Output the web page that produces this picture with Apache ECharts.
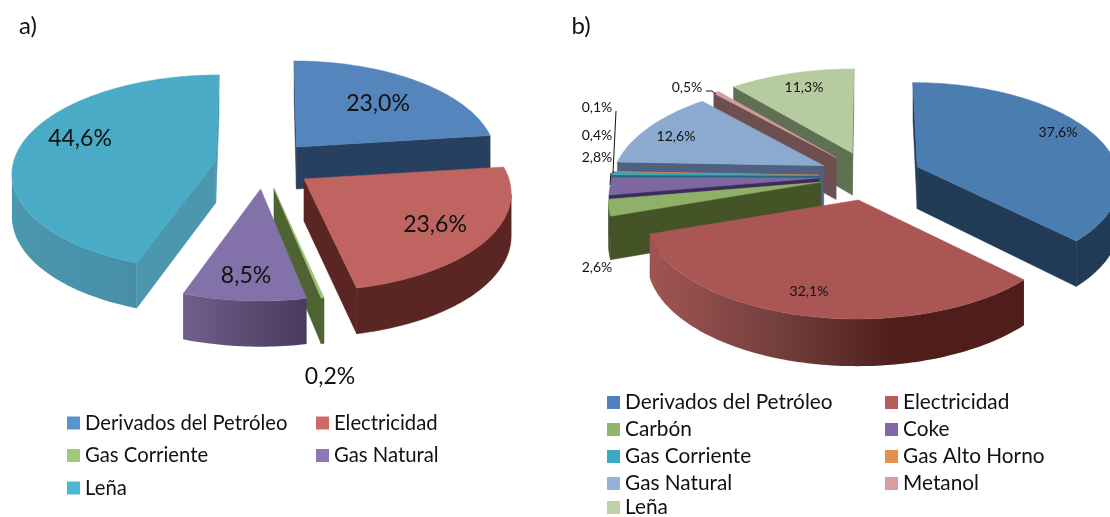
<!DOCTYPE html>
<html><head><meta charset="utf-8">
<style>html,body{margin:0;padding:0;background:#fff}#c{width:1110px;height:517px}</style>
<script src="https://cdn.jsdelivr.net/npm/echarts@6/dist/echarts.min.js"></script>
</head><body><div id="c"></div>
<script>
// ---- data ----
const categoriesA = ['Derivados del Petróleo','Electricidad','Gas Corriente','Gas Natural','Leña'];
const valuesA = [23.0,23.6,0.2,8.5,44.6];
const categoriesB = ['Derivados del Petróleo','Electricidad','Carbón','Coke','Gas Corriente','Gas Alto Horno','Gas Natural','Metanol','Leña'];
const valuesB = [37.6,32.1,2.6,2.8,0.4,0.1,12.6,0.5,11.3];
// ---- styles ----
const topA = ['#5486bd','#bf6461','#9bc26f','#8371aa','#4aabc6'];
const wallA = [['#27405f'],['#5b2523'],['#4d6332'],['#6f5f8a','#4a3b60'],['#4a97ae','#478fa6']];
const swatchA = ['#5b92d0','#cd6a65','#a2c776','#8d77b5','#4bb8d3'];
const topB = ['#4c7db0','#a95655','#8eb068','#7f67a2','#3da5bd','#e28f4a','#8ca9d0','#d49c9c','#b6cca0'];
const wallB = [['#213a56'],['#a05553','#74403e','#4f1e1a','#4f1e1a'],['#445426'],['#3c2c5c'],['#1f6a7d'],['#a0622c'],['#4f6080'],['#6f4e50'],['#5f7055']];
const swatchB = ['#4f81bd','#b55d5b','#93b56b','#8169a6','#3fa8c2','#e2914f','#98b1d6','#d69fa0','#bad2a5'];
// geometry of the two exploded perspective pies
const geoA = {cx:264,cy:165,ex:49,ey:24,R:205,Ry:97.3,k:0.131,D:42,taper:[0.07,0,0,0,0.03]};
const geoB = {cx:870,cy:176,ex:51,ey:24.6,R:208,Ry:98.5,k:0.172,D:42,taper:[0.08,0,0,0.015,0,0,0,0,0]};
const labelPosA = [[378,104],[435,225],[330,377],[246,276],[80,139]];
const labelPosB = [[1058,132],[809,291],[597,267],[597,157],[597,135],[597,107],[676,136],[687,87],[804,87]];
const fontFam = 'Lato, Carlito, "Open Sans", sans-serif';

function makeSlices(values, geo){
  const total = values.reduce((a,b)=>a+b,0);
  let acc = 0;
  return values.map((v,i)=>{
    const t1 = acc/total*2*Math.PI; acc += v;
    const t2 = acc/total*2*Math.PI;
    const mid = (t1+t2)/2;
    const exX = geo.ex*Math.sin(mid);
    return {t1,t2,exX,taper:geo.taper[i],ax:geo.cx+exX,ay:geo.cy-geo.ey*Math.cos(mid)};
  });
}
function rim(geo,sl,t){
  const c = Math.cos(t);
  const s = 1/(1+geo.k*c);
  const f = 1-sl.taper*(1-c)/2;
  return {x:sl.ax+geo.R*Math.sin(t)*s*f+0.6*sl.exX*(s-1), y:sl.ay-geo.Ry*c*s*f, h:geo.D*(1+(s-1)*0.6)};
}
function fillOf(stops){
  if(stops.length===1) return stops[0];
  return new echarts.graphic.LinearGradient(0,0,1,0,stops.map((c,i)=>({offset:i/(stops.length-1),color:c})));
}
function drawSlice(geo,sl,topColor,wallStops){
  const kids = [];
  const n = Math.max(2,Math.ceil((sl.t2-sl.t1)/0.02));
  const pts = [];
  for(let i=0;i<=n;i++) pts.push(rim(geo,sl,sl.t1+(sl.t2-sl.t1)*i/n));
  const midP = pts[Math.floor(n/2)];
  const solid = wallStops[wallStops.length-1];
  // straight walls, only when facing the viewer
  [pts[0],pts[n]].forEach(p=>{
    const dx=p.x-sl.ax, dy=p.y-sl.ay;
    let nx=-dy, ny=dx;
    if(nx*(midP.x-sl.ax)+ny*(midP.y-sl.ay)>0){nx=-nx;ny=-ny;}
    if(ny>0){
      const c = wallStops.length>1 ? wallStops[0] : solid;
      kids.push({type:'polygon',silent:true,shape:{points:[[sl.ax,sl.ay],[p.x,p.y],[p.x,p.y+p.h],[sl.ax,sl.ay+geo.D]]},
        style:{fill:c,stroke:c,lineWidth:0.5}});
    }
  });
  // outer curved wall
  const up=[],down=[];
  for(let i=0;i<n;i++){
    if(pts[i+1].x<pts[i].x){
      if(!up.length){up.push([pts[i].x,pts[i].y]);down.push([pts[i].x,pts[i].y+pts[i].h]);}
      up.push([pts[i+1].x,pts[i+1].y]);down.push([pts[i+1].x,pts[i+1].y+pts[i+1].h]);
    }
  }
  if(up.length){
    const f = fillOf(wallStops);
    kids.push({type:'polygon',silent:true,shape:{points:up.concat(down.reverse())},
      style:{fill:f,stroke:wallStops.length>1?null:solid,lineWidth:0.5}});
  }
  // top face
  kids.push({type:'polygon',silent:true,shape:{points:[[sl.ax,sl.ay]].concat(pts.map(p=>[p.x,p.y]))},
    style:{fill:topColor,stroke:topColor,lineWidth:0.5}});
  return {type:'group',children:kids};
}
function pieSeries(cats,values,geo,tops,walls){
  const slices = makeSlices(values,geo);
  const order = slices.map((s,i)=>[s.ay,i]).sort((a,b)=>a[0]-b[0]).map(r=>r[1]);
  return cats.map((name,i)=>({
    type:'custom',name,coordinateSystem:'none',silent:true,animation:false,
    z:2+order.indexOf(i),
    itemStyle:{color:tops[i]},
    data:[[values[i]]],
    renderItem:()=>drawSlice(geo,slices[i],tops[i],walls[i])
  }));
}
const fmt = v=>v.toFixed(1).replace('.',',')+'%';
function txt(s,x,y,size,align){
  return {type:'text',z:100,silent:true,x,y,style:{text:s,fill:'#111',font:size+'px '+fontFam,textAlign:align||'center',textVerticalAlign:'middle'}};
}
function leg(id,cats,cols,names,left,top,gap,size){
  return {id,show:true,orient:'vertical',left,top,itemWidth:13,itemHeight:13,itemGap:gap,selectedMode:false,padding:0,
    icon:'rect',textStyle:{fontFamily:fontFam,fontSize:size,color:'#111',padding:[0,0,0,0]},
    data:names.map(n=>({name:n,icon:'rect',itemStyle:{color:cols[cats.indexOf(n)]}}))};
}
const chart = echarts.init(document.getElementById('c'),null,{renderer:'canvas'});
chart.setOption({
  animation:false,backgroundColor:'#fff',
  legend:[
    leg('a1',categoriesA,swatchA,['Derivados del Petróleo','Gas Corriente','Leña'],67,413,12.5,20.3),
    leg('a2',categoriesA,swatchA,['Electricidad','Gas Natural'],316,413,12.5,20.3),
    leg('b1',categoriesB,swatchB,['Derivados del Petróleo','Carbón','Gas Corriente','Gas Natural'],607,392,6,20.8),
    leg('b3',categoriesB,swatchB,['Leña'],607,497,6,20.8),
    leg('b2',categoriesB,swatchB,['Electricidad','Coke','Gas Alto Horno','Metanol'],885,392,6,20.8)
  ],
  series:[].concat(
    pieSeries(categoriesA,valuesA,geoA,topA,wallA),
    pieSeries(categoriesB,valuesB,geoB,topB,wallB)
  ),
  graphic:{elements:[].concat(
    [txt('a)',28,26,24),txt('b)',581,26,24)],
    valuesA.map((v,i)=>txt(fmt(v),labelPosA[i][0],labelPosA[i][1],23)),
    valuesB.map((v,i)=>txt(fmt(v),labelPosB[i][0],labelPosB[i][1],14)),
    [
      {type:'polyline',z:100,silent:true,shape:{points:[[706,91],[712,91],[716,94]]},style:{stroke:'#111',fill:null,lineWidth:1}},
      {type:'polyline',z:100,silent:true,shape:{points:[[616,111],[613,173]]},style:{stroke:'#111',fill:null,lineWidth:1}},
      {type:'polyline',z:100,silent:true,shape:{points:[[611,173],[610,185]]},style:{stroke:'#111',fill:null,lineWidth:1}}
    ]
  )}
});
</script></body></html>
